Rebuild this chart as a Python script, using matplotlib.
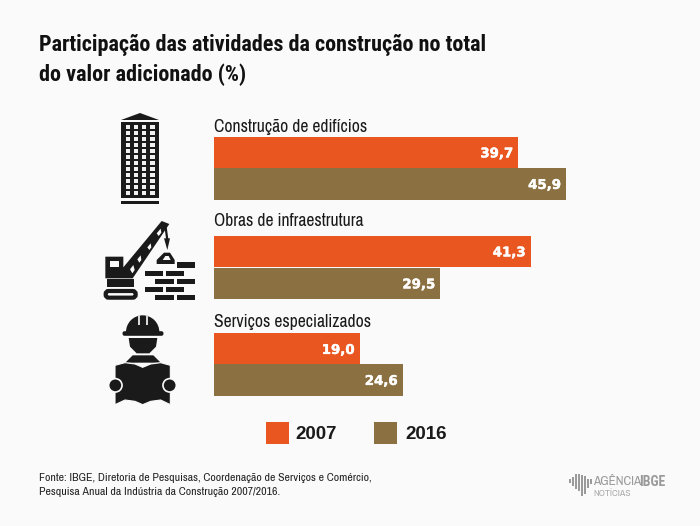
import matplotlib
matplotlib.use("Agg")
import matplotlib.pyplot as plt
import matplotlib.patheffects as pe
from matplotlib.patches import Polygon, Rectangle, Circle, Wedge, FancyBboxPatch

categories = ["Construção de edifícios", "Obras de infraestrutura", "Serviços especializados"]
values_2007 = [39.7, 41.3, 19.0]
values_2016 = [45.9, 29.5, 24.6]
series_names = ["2007", "2016"]

ORANGE = "#E9561F"
BROWN = "#8B7041"
BG = "#FAFAFA"
DARK = "#1A1A1A"
CONDENSED = ["Roboto Condensed", "Archivo Narrow", "Liberation Sans", "DejaVu Sans"]
NARROW = ["Archivo Narrow", "Roboto Condensed", "Liberation Sans", "DejaVu Sans"]
SANS = ["Liberation Sans", "DejaVu Sans"]

fig = plt.figure(figsize=(7, 5.26), dpi=100, facecolor=BG)

# overlay in pixel coordinates for text and icons
bg = fig.add_axes([0, 0, 1, 1])
bg.set_xlim(0, 700)
bg.set_ylim(526, 0)
bg.axis("off")

# bars
ax = fig.add_axes([214 / 700, 0, (566 - 214) / 700, 1])
ax.set_xlim(0, 45.9)
ax.set_ylim(526, 0)
ax.axis("off")
ax.patch.set_alpha(0)

rows_2007 = [152.5, 251.5, 349]
rows_2016 = [184, 283.5, 380]
ax.barh(rows_2007, values_2007, height=31.5, color=ORANGE)
ax.barh(rows_2016, values_2016, height=31.5, color=BROWN)
for y, v in zip(rows_2007 + rows_2016, values_2007 + values_2016):
    label = f"{v:.1f}".replace(".", ",")
    ax.annotate(label, (v, y), xytext=(-3.5, -1), textcoords="offset points", ha="right", va="center",
                color="white", fontsize=9.6, fontweight="bold", family="DejaVu Sans",
                path_effects=[pe.withStroke(linewidth=0.3, foreground="white")])

# category labels
for y, name in zip([127, 221.5, 322.5], categories):
    bg.text(214, y, name, fontsize=12.7, family=NARROW, color=DARK, va="center")

# title
bg.text(39, 45.5, "Participação das atividades da construção no total", fontsize=15.9,
        fontweight="bold", family=CONDENSED, color="#111111", va="center")
bg.text(39, 74.5, "do valor adicionado (%)", fontsize=15.9,
        fontweight="bold", family=CONDENSED, color="#111111", va="center")

# legend
for x, tx, color, name in zip([266, 374], [295, 405], [ORANGE, BROWN], series_names):
    bg.add_patch(Rectangle((x, 422), 23, 22, color=color, lw=0))
    bg.text(tx, 434.5, name, fontsize=13.5, fontweight="bold", family=SANS, color=DARK, va="center")

# source
bg.text(39, 478, "Fonte: IBGE, Diretoria de Pesquisas, Coordenação de Serviços e Comércio,",
        fontsize=8.5, family=NARROW, color="#222222", va="center")
bg.text(39, 492, "Pesquisa Anual da Indústria da Construção 2007/2016.",
        fontsize=8.5, family=NARROW, color="#222222", va="center")


def zoomed(points, ox, oy):
    return [(ox + px / 3, oy + py / 3) for px, py in points]


# building icon
bg.add_patch(Polygon([(121, 120), (140, 113), (159, 120)], color=DARK, lw=0))
bg.add_patch(Rectangle((121, 122), 38, 76, color=DARK, lw=0))
bg.add_patch(Rectangle((121, 201), 38, 3, color=DARK, lw=0))
for cx in [128, 136, 144, 152.3]:
    for r in range(12):
        cy = 126.7 + r * 6.05
        bg.add_patch(Rectangle((cx - 2.4, cy - 2), 4.8, 4, color="#F0F0F0", lw=0))

# crane icon
ox, oy = 90, 210
crane = [
    [(46, 140), (100, 140), (100, 172), (215, 33), (238, 42), (128, 205), (46, 205)],
    [(52, 208), (132, 208), (132, 232), (52, 232)],
]
for pts in crane:
    bg.add_patch(Polygon(zoomed(pts, ox, oy), color=DARK, lw=0))
bg.add_patch(Rectangle((ox + 60 / 3, oy + 152 / 3), 26 / 3, 18 / 3, color=BG, lw=0))
# lattice holes in the boom
for pts in [[(120, 178), (130, 165), (134, 180), (127, 190)],
            [(142, 148), (152, 136), (154, 150), (148, 158)],
            [(172, 112), (182, 100), (184, 112), (178, 120)],
            [(200, 70), (212, 56), (214, 68), (206, 78)]]:
    bg.add_patch(Polygon(zoomed(pts, ox, oy), color=BG, lw=0))
# tracks
bg.add_patch(FancyBboxPatch((ox + 50 / 3, oy + 246 / 3), 84 / 3, 14 / 3, boxstyle="round,pad=1,rounding_size=3",
                            fc=BG, ec=DARK, lw=3))
# hook
bg.plot(*zip(*zoomed([(226, 45), (232, 90)], ox, oy)), color=DARK, lw=1.6)
bg.add_patch(Polygon(zoomed([(222, 85), (240, 85), (232, 120)], ox, oy), color=DARK, lw=0))
bg.add_patch(Polygon(zoomed([(200, 150), (222, 128), (240, 128), (254, 150), (254, 162), (200, 162)], ox, oy),
                     color=DARK, lw=0))
bg.add_patch(Polygon(zoomed([(218, 150), (226, 138), (236, 138), (242, 150)], ox, oy), color=BG, lw=0))
# bricks
bricks = [(260, 156), (164, 182), (227, 182), (196, 206), (260, 206), (164, 230), (227, 230), (196, 254), (260, 254)]
for bx, by in bricks:
    bg.add_patch(Rectangle((ox + bx / 3, oy + by / 3), 56 / 3, 17 / 3, color=DARK, lw=0))

# worker icon
ox, oy = 90, 310
bg.add_patch(Wedge((ox + 158 / 3, oy + 66 / 3), 50 / 3, 180, 360, color=DARK, lw=0))
bg.add_patch(Rectangle((ox + 143 / 3, oy + 16 / 3), 6 / 3, 28 / 3, color="#D8D8D8", lw=0))
bg.add_patch(Rectangle((ox + 168 / 3, oy + 16 / 3), 6 / 3, 28 / 3, color="#D8D8D8", lw=0))
bg.add_patch(FancyBboxPatch((ox + 100 / 3, oy + 66 / 3), 118 / 3, 9 / 3, boxstyle="round,pad=0.8,rounding_size=2",
                            color=DARK, lw=0))
bg.add_patch(Polygon(zoomed([(116, 84), (202, 84), (198, 110), (178, 130), (140, 130), (120, 110)], ox, oy),
                     color=DARK, lw=0))
bg.add_patch(Polygon(zoomed([(106, 158), (128, 136), (190, 136), (212, 158)], ox, oy), color=DARK, lw=0))
book = [(75, 166), (105, 158), (135, 162), (158, 172), (182, 162), (212, 158), (241, 166), (241, 284),
        (212, 270), (182, 274), (158, 284), (135, 274), (105, 270), (75, 284)]
bg.add_patch(Polygon(zoomed(book, ox, oy), fc=DARK, ec=BG, lw=0.8))
for cx in [76, 239]:
    bg.add_patch(Circle((ox + cx / 3, oy + 226 / 3), 6.7, fc=DARK, ec=BG, lw=1.2))

# logo
LOGO = "#9A9A9A"
logo_x = [569, 572, 575, 578, 581, 584, 587, 590]
logo_top = [479, 477, 474, 474, 475, 476, 479, 479]
logo_bot = [483, 486, 489, 491, 496, 494, 488, 484]
for x, t, b in zip(logo_x, logo_top, logo_bot):
    bg.add_patch(Rectangle((x, t), 2, b - t, color=LOGO, lw=0))
bg.text(593.5, 481.5, "AGÊNCIA", fontsize=9.5, family=NARROW, color=LOGO, va="center")
bg.text(639.5, 481.5, "IBGE", fontsize=10, fontweight="bold", family=CONDENSED, color=LOGO, va="center")
bg.text(593.5, 494, "NOTÍCIAS", fontsize=7, family=NARROW, color="#AAAAAA", va="center")

fig.savefig("out.png", dpi=100, facecolor=BG)
